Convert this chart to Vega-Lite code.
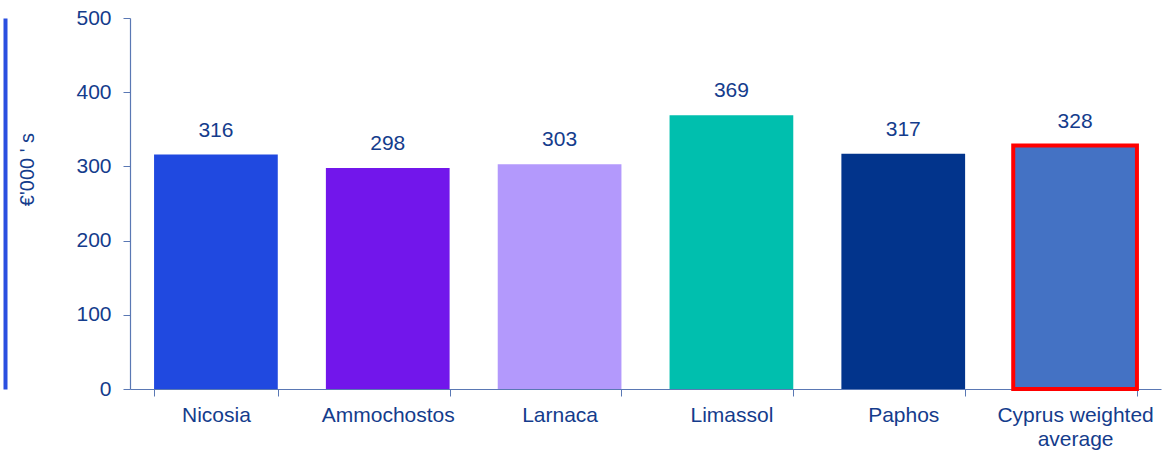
{
  "$schema": "https://vega.github.io/schema/vega-lite/v6.json",
  "autosize": {"type": "none"},
  "width": 1031,
  "height": 371,
  "padding": {"left": 130, "top": 18, "right": 9, "bottom": 63},
  "background": "white",
  "config": {
    "view": {"stroke": null},
    "font": "Liberation Sans",
    "axis": {"labelFont": "Liberation Sans", "titleFont": "Liberation Sans", "labelColor": "#143C8C", "titleColor": "#143C8C", "domainColor": "#5A78B4", "tickColor": "#5A78B4"}
  },
  "data": {
    "values": [
      {"region": "Nicosia", "value": 316},
      {"region": "Ammochostos", "value": 298},
      {"region": "Larnaca", "value": 303},
      {"region": "Limassol", "value": 369},
      {"region": "Paphos", "value": 317},
      {"region": "Cyprus weighted average", "value": 328}
    ]
  },
  "encoding": {
    "x": {
      "field": "region", "type": "nominal", "sort": null,
      "scale": {"paddingInner": 0.28, "paddingOuter": 0.14},
      "axis": {
        "title": null, "labelAngle": 0, "labelFontSize": 21, "labelPadding": 8,
        "tickBand": "extent", "tickSize": 7, "domainWidth": 1.2,
        "labelExpr": "datum.label == 'Cyprus weighted average' ? ['Cyprus weighted', 'average'] : datum.label",
        "labelLineHeight": 24
      }
    }
  },
  "layer": [
    {
      "mark": {"type": "bar"},
      "encoding": {
        "y": {
          "field": "value", "type": "quantitative",
          "scale": {"domain": [0, 500], "nice": false},
          "axis": {
            "orient": "left",
            "title": "€'000 ' s", "titleFontSize": 20, "titleFontWeight": "normal",
            "titleX": -93, "titleY": 151, "titleBaseline": "bottom",
            "labelFontSize": 21, "labelPadding": 12,
            "values": [0, 100, 200, 300, 400, 500], "tickSize": 7, "grid": false, "domainWidth": 1.2
          }
        },
        "color": {
          "field": "region", "type": "nominal", "sort": null, "legend": null,
          "scale": {
            "domain": ["Nicosia", "Ammochostos", "Larnaca", "Limassol", "Paphos", "Cyprus weighted average"],
            "range": ["#2049E0", "#7216EB", "#B399FC", "#00BFAE", "#02348C", "#4472C4"]
          }
        },
        "stroke": {"condition": {"test": "datum.region == 'Cyprus weighted average'", "value": "#FF0000"}, "value": null},
        "strokeWidth": {"condition": {"test": "datum.region == 'Cyprus weighted average'", "value": 4}, "value": 0}
      }
    },
    {
      "mark": {"type": "text", "fontSize": 21, "color": "#143C8C", "baseline": "alphabetic", "dy": -18},
      "encoding": {
        "y": {
          "field": "value", "type": "quantitative",
          "axis": {
            "orient": "left",
            "title": null, "labels": false, "ticks": false, "grid": false,
            "offset": 125, "domainColor": "#2A4FE0", "domainWidth": 4
          }
        },
        "text": {"field": "value", "type": "quantitative"}
      }
    }
  ],
  "resolve": {"axis": {"y": "independent"}}
}
